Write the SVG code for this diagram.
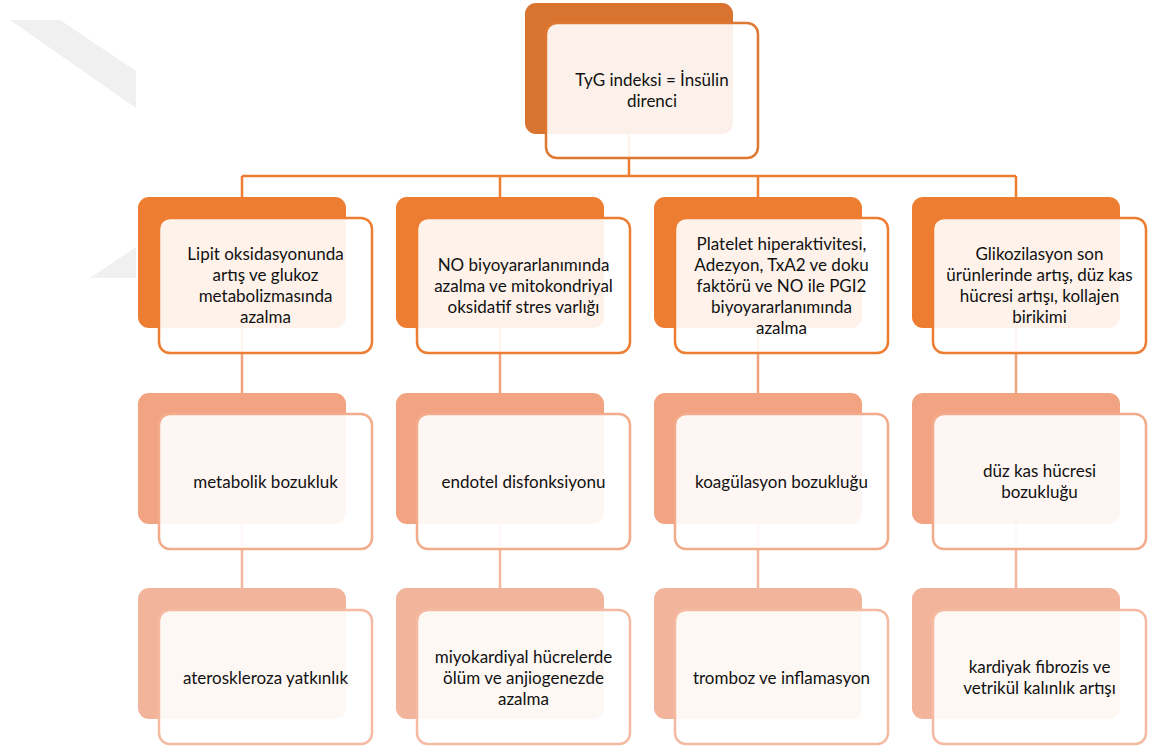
<svg xmlns="http://www.w3.org/2000/svg" width="1152" height="749" viewBox="0 0 1152 749">
<defs>
<style>
.bg{fill:#ffffff}
.wm{fill:#f0f0f0}
.front{fill:#ffffff;fill-opacity:0.9;stroke-width:2.5}
.t{font-family:Lato,"Open Sans","Liberation Sans",sans-serif;font-size:17px;fill:#111111;text-anchor:middle}
.b0{fill:#D97430}.s0{stroke:#DE7732}
.b1{fill:#ED7D31}.s1{stroke:#ED7D31}
.b2{fill:#F1A382}.s2{stroke:#F2AC8C}
.b3{fill:#F3B49C}.s3{stroke:#F4BAA2}
.c{fill:none;stroke-width:2.5}
.c1{stroke:#ED7D31}.c2{stroke:#F0A27C}.c3{stroke:#F3B69E}
</style>
</defs>
<rect class="bg" x="0" y="0" width="1152" height="749"/>
<g id="watermark">
<polygon class="wm" points="10,20 60,20 136,71 136,108"/>
<polygon class="wm" points="90,278 136,247 136,278"/>
</g>
<g id="connectors">
<path class="c c1" d="M629,134 V176 M242,176 H1016 M242,176 V197 M500,176 V197 M758,176 V197 M1016,176 V197"/>
<path class="c c2" d="M242,328 V393 M500,328 V393 M758,328 V393 M1016,328 V393"/>
<path class="c c3" d="M242,524 V588 M500,524 V588 M758,524 V588 M1016,524 V588"/>
</g>
<g id="n0">
<rect class="b0" x="525" y="3" width="208" height="131" rx="11"/>
<rect class="front s0" x="546" y="23" width="212" height="135" rx="11"/>
<text class="t" x="652" y="86">TyG indeksi = İnsülin</text>
<text class="t" x="652" y="107">direnci</text>
</g>
<g id="n11">
<rect class="b1" x="138" y="197" width="208" height="131" rx="11"/>
<rect class="front s1" x="159" y="218" width="213" height="135" rx="11"/>
<text class="t" x="265.5" y="260">Lipit oksidasyonunda</text>
<text class="t" x="265.5" y="281">artış ve glukoz</text>
<text class="t" x="265.5" y="302">metabolizmasında</text>
<text class="t" x="265.5" y="323">azalma</text>
</g>
<g id="n12">
<rect class="b1" x="396" y="197" width="208" height="131" rx="11"/>
<rect class="front s1" x="417" y="218" width="213" height="135" rx="11"/>
<text class="t" x="523.5" y="270.5">NO biyoyararlanımında</text>
<text class="t" x="523.5" y="291.5">azalma ve mitokondriyal</text>
<text class="t" x="523.5" y="312.5">oksidatif stres varlığı</text>
</g>
<g id="n13">
<rect class="b1" x="654" y="197" width="208" height="131" rx="11"/>
<rect class="front s1" x="675" y="218" width="213" height="135" rx="11"/>
<text class="t" x="781.5" y="249.5">Platelet hiperaktivitesi,</text>
<text class="t" x="781.5" y="270.5">Adezyon, TxA2 ve doku</text>
<text class="t" x="781.5" y="291.5">faktörü ve NO ile PGI2</text>
<text class="t" x="781.5" y="312.5">biyoyararlanımında</text>
<text class="t" x="781.5" y="333.5">azalma</text>
</g>
<g id="n14">
<rect class="b1" x="912" y="197" width="208" height="131" rx="11"/>
<rect class="front s1" x="933" y="218" width="213" height="135" rx="11"/>
<text class="t" x="1039.5" y="260">Glikozilasyon son</text>
<text class="t" x="1039.5" y="281">ürünlerinde artış, düz kas</text>
<text class="t" x="1039.5" y="302">hücresi artışı, kollajen</text>
<text class="t" x="1039.5" y="323">birikimi</text>
</g>
<g id="n21">
<rect class="b2" x="138" y="393" width="208" height="131" rx="11"/>
<rect class="front s2" x="159" y="414" width="213" height="135" rx="11"/>
<text class="t" x="265.5" y="487.5">metabolik bozukluk</text>
</g>
<g id="n22">
<rect class="b2" x="396" y="393" width="208" height="131" rx="11"/>
<rect class="front s2" x="417" y="414" width="213" height="135" rx="11"/>
<text class="t" x="523.5" y="487.5">endotel disfonksiyonu</text>
</g>
<g id="n23">
<rect class="b2" x="654" y="393" width="208" height="131" rx="11"/>
<rect class="front s2" x="675" y="414" width="213" height="135" rx="11"/>
<text class="t" x="781.5" y="487.5">koagülasyon bozukluğu</text>
</g>
<g id="n24">
<rect class="b2" x="912" y="393" width="208" height="131" rx="11"/>
<rect class="front s2" x="933" y="414" width="213" height="135" rx="11"/>
<text class="t" x="1039.5" y="477">düz kas hücresi</text>
<text class="t" x="1039.5" y="498">bozukluğu</text>
</g>
<g id="n31">
<rect class="b3" x="138" y="588" width="208" height="131" rx="11"/>
<rect class="front s3" x="159" y="610" width="213" height="134" rx="11"/>
<text class="t" x="265.5" y="683.5">ateroskleroza yatkınlık</text>
</g>
<g id="n32">
<rect class="b3" x="396" y="588" width="208" height="131" rx="11"/>
<rect class="front s3" x="417" y="610" width="213" height="134" rx="11"/>
<text class="t" x="523.5" y="662.5">miyokardiyal hücrelerde</text>
<text class="t" x="523.5" y="683.5">ölüm ve anjiogenezde</text>
<text class="t" x="523.5" y="704.5">azalma</text>
</g>
<g id="n33">
<rect class="b3" x="654" y="588" width="208" height="131" rx="11"/>
<rect class="front s3" x="675" y="610" width="213" height="134" rx="11"/>
<text class="t" x="781.5" y="683.5">tromboz ve inflamasyon</text>
</g>
<g id="n34">
<rect class="b3" x="912" y="588" width="208" height="131" rx="11"/>
<rect class="front s3" x="933" y="610" width="213" height="134" rx="11"/>
<text class="t" x="1039.5" y="673">kardiyak fibrozis ve</text>
<text class="t" x="1039.5" y="694">vetrikül kalınlık artışı</text>
</g>
</svg>
